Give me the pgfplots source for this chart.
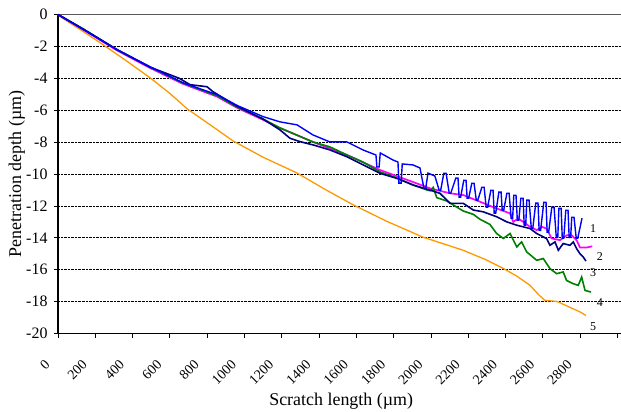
\documentclass[border=0pt]{standalone}
\usepackage{fontspec}
\setmainfont{Liberation Serif}
\usepackage{pgfplots}
\pgfplotsset{compat=1.18}
\definecolor{cblue}{HTML}{0000FF}
\definecolor{cnavy}{HTML}{000080}
\definecolor{cmag}{HTML}{FF00FF}
\definecolor{cgreen}{HTML}{008000}
\definecolor{corange}{HTML}{FF9900}

\begin{document}
\begin{tikzpicture}
  \begin{axis}[
    scale only axis,
    width=563bp, height=319bp,
    xmin=0, xmax=3019, ymin=-20, ymax=0,
    axis x line*=bottom, axis y line*=left,
    axis line style={black, line width=1.2bp},
    xtick={0,200,...,3000},
    xticklabels={0,200,400,600,800,1000,1200,1400,1600,1800,2000,2200,2400,2600,2800,{}},
    ytick={-20,-18,...,0},
    ymajorgrids,
    grid style={densely dotted, black, line width=0.8bp},
    tick align=outside, major tick length=4bp,
    tick style={black, line width=0.8bp},
    /pgf/number format/assume math mode=true,
    xticklabel style={font=\fontsize{14}{14}\selectfont, inner sep=0pt, xshift=-14bp, yshift=-21bp, rotate=45, anchor=north east},
    yticklabel style={font=\fontsize{16}{16}\selectfont, xshift=-3bp},
    label style={font=\fontsize{18}{18}\selectfont},
    xlabel={Scratch length (µm)},
    ylabel={Penetration depth (µm)},
    xlabel style={at={(axis description cs:0.503,-0.212)}, anchor=center},
    ylabel style={at={(axis description cs:-0.073,0.5)}, anchor=center},
    clip=false,
  ]
    \draw[gray!70!black, line width=1.2bp] (rel axis cs:0,1) -- (rel axis cs:1,1);

    % 5
    \addplot[corange, line width=1.3bp] coordinates {
      (0,0) (11,-0.13) (120,-0.95) (225,-1.76) (360,-2.85) (493,-3.96)
      (600,-4.95) (692,-5.91) (820,-6.95) (938,-7.92) (1100,-8.95)
      (1282,-9.94) (1430,-10.95) (1576,-11.89) (1760,-12.95) (1957,-13.96)
      (2060,-14.35) (2172,-14.78) (2290,-15.35) (2386,-15.91) (2460,-16.4)
      (2531,-16.98) (2580,-17.6) (2611,-17.92) (2676,-17.99) (2745,-18.36)
      (2800,-18.65) (2831,-18.87)
    };
    % 2
    \addplot[cmag, line width=1.7bp] coordinates {
      (0,0) (134,-0.94) (316,-2.25) (493,-3.35) (670,-4.35) (853,-5.15)
      (960,-5.85) (1099,-6.6) (1190,-7.11) (1367,-7.99) (1550,-8.81)
      (1727,-9.75) (1903,-10.50) (1995,-10.90) (2102,-11.21) (2173,-11.32)
      (2263,-11.74) (2352,-12.16) (2424,-12.47) (2441,-13.0) (2468,-12.79)
      (2495,-13.0) (2531,-13.31) (2567,-13.52) (2594,-13.31) (2620,-13.42)
      (2647,-14.04) (2692,-14.15) (2728,-13.84) (2754,-13.84) (2781,-14.15)
      (2799,-14.61) (2835,-14.61) (2865,-14.53)
    };
    % 4
    \addplot[cgreen, line width=1.6bp] coordinates {
      (0,0) (134,-0.9) (316,-2.2) (493,-3.3) (670,-4.3) (853,-5.1)
      (960,-5.8) (1099,-6.55) (1190,-7.11) (1367,-7.99) (1458,-8.30)
      (1550,-8.81) (1635,-9.25) (1727,-9.87) (1818,-10.25) (1903,-10.69)
      (1979,-11.0) (1995,-11.05) (2012,-10.84) (2031,-11.48) (2084,-11.69)
      (2173,-12.32) (2227,-12.53) (2263,-12.84) (2316,-13.16) (2352,-13.73)
      (2388,-14.04) (2424,-13.73) (2460,-14.57) (2486,-14.26) (2513,-14.88)
      (2567,-15.41) (2602,-15.30) (2638,-15.93) (2674,-16.25) (2709,-16.14)
      (2727,-16.67) (2763,-16.88) (2790,-16.98) (2808,-16.46) (2826,-17.30)
      (2858,-17.40)
    };
    % 3
    \addplot[cnavy, line width=1.6bp] coordinates {
      (0,0) (134,-0.9) (316,-2.2) (493,-3.3) (650,-4.0) (708,-4.40)
      (799,-4.53) (831,-4.84) (960,-5.75) (1099,-6.55) (1190,-7.23)
      (1244,-7.76) (1298,-7.97) (1369,-8.18) (1458,-8.49) (1548,-8.91)
      (1637,-9.43) (1727,-9.96) (1816,-10.27) (1905,-10.69) (1995,-11.01)
      (2048,-11.21) (2102,-11.84) (2173,-11.84) (2227,-12.26) (2280,-12.37)
      (2352,-12.68) (2406,-13.0) (2460,-13.21) (2531,-13.42) (2567,-13.73)
      (2620,-14.05) (2638,-14.47) (2665,-14.26) (2683,-14.78) (2709,-14.36)
      (2745,-14.47) (2763,-14.26) (2781,-14.68) (2799,-15.0) (2817,-15.21)
      (2831,-15.46)
    };
    % 1
    \addplot[cblue, line width=1.4bp] coordinates {
      (0,0) (134,-0.94) (316,-2.2) (493,-3.27) (670,-4.28) (853,-5.03)
      (960,-5.7) (1099,-6.4) (1190,-6.73) (1282,-6.92) (1367,-7.55)
      (1458,-7.99) (1550,-7.99) (1635,-8.49) (1705,-8.81) (1710,-9.56) (1722,-9.56)
      (1728,-8.68) (1796,-9.12) (1823,-9.25) (1828,-10.57) (1840,-10.57) (1846,-9.37)
      (1903,-9.43) (1941,-9.62) (1962,-10.88) (1972,-10.88) (1984,-9.94) (2021,-10.13)
      (2044,-11.02) (2052,-11.02) (2069,-9.95) (2081,-9.95) (2098,-11.21) (2106,-11.21)
      (2133,-10.26) (2145,-10.26) (2151,-11.46) (2159,-11.46) (2176,-10.39) (2188,-10.39)
      (2194,-11.52) (2202,-11.52) (2219,-10.58) (2231,-10.58) (2243,-11.64) (2251,-11.64)
      (2273,-10.83) (2285,-10.83) (2296,-12.08) (2304,-12.08) (2321,-11.02) (2333,-11.02)
      (2339,-12.46) (2347,-12.46) (2364,-11.14) (2376,-11.14) (2382,-12.27) (2390,-12.27)
      (2407,-11.21) (2419,-11.21) (2430,-12.77) (2438,-12.77) (2444,-11.33) (2456,-11.33)
      (2463,-12.90) (2471,-12.90) (2482,-11.52) (2494,-11.52) (2500,-13.21) (2508,-13.21)
      (2514,-11.64) (2526,-11.64) (2538,-13.40) (2546,-13.40) (2562,-11.83) (2574,-11.83)
      (2580,-13.53) (2588,-13.53) (2605,-11.77) (2617,-11.77) (2623,-13.65) (2631,-13.65)
      (2648,-12.08) (2660,-12.08) (2672,-13.97) (2680,-13.97) (2686,-12.15) (2698,-12.15)
      (2704,-14.03) (2712,-14.03) (2723,-12.27) (2735,-12.27) (2741,-13.97) (2749,-13.97)
      (2755,-12.71) (2767,-12.71) (2779,-14.03) (2787,-14.03) (2810,-12.77)
    };

    \node[font=\fontsize{12}{12}\selectfont] at (axis cs:2869,-13.40) {1};
    \node[font=\fontsize{12}{12}\selectfont] at (axis cs:2906,-15.16) {2};
    \node[font=\fontsize{12}{12}\selectfont] at (axis cs:2869,-16.16) {3};
    \node[font=\fontsize{12}{12}\selectfont] at (axis cs:2906,-18.05) {4};
    \node[font=\fontsize{12}{12}\selectfont] at (axis cs:2869,-19.56) {5};

    \coordinate (O) at (rel axis cs:0,0);
  \end{axis}
  \pgfresetboundingbox
  \path[use as bounding box] ([shift={(-58bp,-78.5bp)}]O) rectangle ++(621bp,412bp);
\end{tikzpicture}
\end{document}
